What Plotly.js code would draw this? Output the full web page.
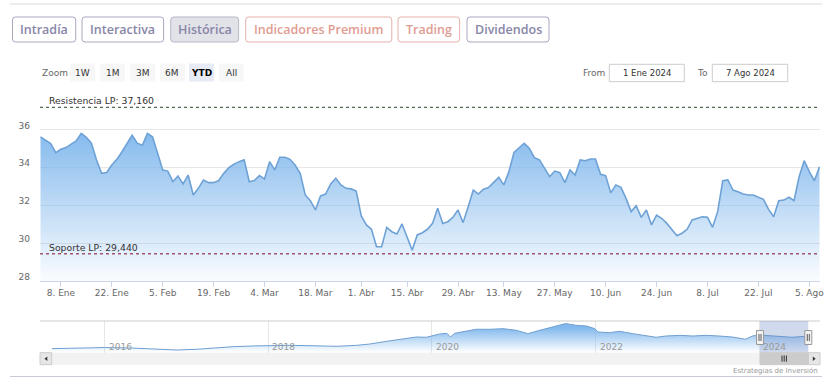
<!DOCTYPE html>
<html><head><meta charset="utf-8">
<script src="https://cdn.plot.ly/plotly-3.0.1.min.js"></script>
<style>html,body{margin:0;padding:0;background:#fff;} #chart{width:831px;height:386px;}</style>
</head><body><div id="chart"></div>
<script>
// ---------------- DATA ----------------
const startDate = '2024-01-02';
const endDate = '2024-08-07';
const marketHolidays = ['2024-01-01', '2024-03-29', '2024-04-01', '2024-05-01'];

const closes = [
  35.61, 35.45, 35.25, 34.77, 34.95, 35.04, 35.22, 35.39, 35.79, 35.58,
  35.27, 34.39, 33.68, 33.73, 34.12, 34.42, 34.82, 35.27, 35.69, 35.27,
  35.16, 35.79, 35.61, 34.74, 33.86, 33.80, 33.24, 33.54, 33.12, 33.59,
  32.54, 32.89, 33.33, 33.19, 33.19, 33.30, 33.68, 33.98, 34.17, 34.30,
  34.39, 33.24, 33.30, 33.56, 33.38, 34.30, 33.86, 34.53, 34.53, 34.42,
  34.12, 33.68, 32.54, 32.24, 31.75, 32.49, 32.59, 33.12, 33.42, 33.07,
  32.89, 32.86, 32.75, 31.43, 30.96, 30.73, 29.81, 29.81, 30.83, 30.60,
  30.48, 31.01, 30.34, 29.62, 30.43, 30.55, 30.73, 31.04, 31.84, 31.04,
  31.13, 31.36, 31.75, 31.08, 31.92, 32.80, 32.59, 32.84, 32.93, 33.19,
  33.47, 33.07, 33.77, 34.79, 35.04, 35.27, 35.00, 34.51, 34.39, 33.95,
  33.50, 33.80, 33.72, 33.19, 33.86, 33.59, 34.39, 34.35, 34.44, 34.44,
  33.63, 33.56, 32.65, 33.07, 32.94, 32.36, 31.66, 31.97, 31.36, 31.75,
  30.96, 31.47, 31.31, 31.04, 30.69, 30.39, 30.52, 30.73, 31.22, 31.31,
  31.39, 31.36, 30.83, 31.66, 33.29, 33.33, 32.80, 32.71, 32.59, 32.54,
  32.54, 32.42, 32.31, 31.78, 31.39, 32.24, 32.27, 32.42, 32.24, 33.50,
  34.35, 33.77, 33.29, 34.03
];

const tickDates = ['2024-01-08','2024-01-22','2024-02-05','2024-02-19','2024-03-04','2024-03-18',
  '2024-04-02','2024-04-15','2024-04-29','2024-05-13','2024-05-27','2024-06-10','2024-06-24',
  '2024-07-08','2024-07-22','2024-08-05'];
const tickLabels = ['8. Ene','22. Ene','5. Feb','19. Feb','4. Mar','18. Mar','1. Abr','15. Abr',
  '29. Abr','13. May','27. May','10. Jun','24. Jun','8. Jul','22. Jul','5. Ago'];
const yTickVals = [28, 30, 32, 34, 36, 38];
const yTickLabels = ['28', '30', '32', '34', '36', ''];

const resistencia = 37.16;
const soporte = 29.44;

const navDates = ['2015-05-11','2015-08-01','2015-10-14','2016-01-01','2016-04-23','2016-08-07',
  '2016-11-18','2017-02-16','2017-05-30','2017-07-29','2017-10-26','2018-01-01','2018-03-22',
  '2018-07-05','2018-11-02','2019-01-31','2019-03-30','2019-06-13','2019-08-26','2019-10-24',
  '2019-12-07','2020-01-03','2020-02-05','2020-03-08','2020-03-24','2020-04-12','2020-05-19',
  '2020-07-17','2020-09-16','2020-11-14','2021-01-12','2021-03-04','2021-04-26','2021-06-25',
  '2021-08-20','2021-10-05','2021-11-21','2021-12-28','2022-01-11','2022-03-04','2022-04-17',
  '2022-06-15','2022-07-31','2022-09-28','2022-11-10','2023-01-12','2023-03-11','2023-05-08',
  '2023-07-06','2023-09-02','2023-11-01','2023-12-01','2024-01-02','2024-02-28','2024-05-26',
  '2024-08-07'];
const navValues = [15.9, 16.4, 16.4, 17.5, 16.9, 15.9, 14.0, 15.0, 17.9, 18.8, 19.8, 20.2, 20.7,
  20.2, 19.3, 20.7, 22.6, 26.5, 29.4, 32.7, 32.3, 34.1, 37.0, 38.0, 32.7, 38.0, 39.9, 43.8, 43.8,
  44.7, 42.3, 37.5, 42.3, 47.1, 52.0, 49.5, 48.5, 44.7, 39.9, 38.9, 40.9, 37.5, 35.1, 32.3, 34.1,
  35.1, 34.1, 35.1, 34.1, 32.7, 29.4, 34.1, 35.6, 34.1, 32.3, 34.0];
const navTickDates = ['2016-01-01','2018-01-01','2020-01-01','2022-01-01','2024-01-01'];
const navTickLabels = ['2016','2018','2020','2022','2024'];

const tabLabels = ['Intradía','Interactiva','Histórica','Indicadores Premium','Trading','Dividendos'];
const zoomLabels = ['1W','1M','3M','6M','YTD','All'];
const fromLabel = 'From', toLabel = 'To';
const fromValue = '1 Ene 2024', toValue = '7 Ago 2024';
const creditText = 'Estrategias de Inversión';

// ---------------- CALENDAR (trading days) ----------------
function tradingDays(s, e, hol) {
  const out = [];
  const d = new Date(s + 'T00:00:00Z'), end = new Date(e + 'T00:00:00Z');
  while (d <= end) {
    const iso = d.toISOString().slice(0, 10);
    const wd = d.getUTCDay();
    if (wd !== 0 && wd !== 6 && hol.indexOf(iso) < 0) out.push(iso);
    d.setUTCDate(d.getUTCDate() + 1);
  }
  return out;
}
const dates = tradingDays(startDate, endDate, marketHolidays);

// ---------------- LAYOUT HELPERS ----------------
const W = 831, H = 386;
const px = x => x / W;
const py = y => 1 - y / H;
function rrect(x0, y0, x1, y1, r) {
  const P = (x, y) => px(x).toFixed(5) + ',' + py(y).toFixed(5);
  return 'M' + P(x0 + r, y0) + ' L' + P(x1 - r, y0) + ' Q' + P(x1, y0) + ' ' + P(x1, y0 + r) +
    ' L' + P(x1, y1 - r) + ' Q' + P(x1, y1) + ' ' + P(x1 - r, y1) +
    ' L' + P(x0 + r, y1) + ' Q' + P(x0, y1) + ' ' + P(x0, y1 - r) +
    ' L' + P(x0, y0 + r) + ' Q' + P(x0, y0) + ' ' + P(x0 + r, y0) + ' Z';
}
function rect(x0, y0, x1, y1, fill, line, lw) {
  return {type: 'rect', xref: 'paper', yref: 'paper', x0: px(x0), x1: px(x1), y0: py(y1), y1: py(y0),
    fillcolor: fill, line: {color: line || 'rgba(0,0,0,0)', width: lw === undefined ? (line ? 1 : 0) : lw}, layer: 'above'};
}
function hline(x0, x1, y, color, w) {
  return {type: 'line', xref: 'paper', yref: 'paper', x0: px(x0), x1: px(x1), y0: py(y), y1: py(y),
    line: {color: color, width: w || 1}, layer: 'above'};
}
function vline(x, y0, y1, color, w) {
  return {type: 'line', xref: 'paper', yref: 'paper', x0: px(x), x1: px(x), y0: py(y0), y1: py(y1),
    line: {color: color, width: w || 1}, layer: 'above'};
}
function txt(text, x, y, opts) {
  opts = opts || {};
  return {text: text, x: px(x), y: py(y), xref: 'paper', yref: 'paper', showarrow: false,
    xanchor: opts.xa || 'center', yanchor: 'middle',
    font: {family: opts.family || 'DejaVu Sans, Verdana, sans-serif', size: opts.size || 9,
      color: opts.color || '#666', weight: opts.weight || 400}};
}

const shapes = [];
const annotations = [];

// page lines
shapes.push(hline(10, 822, 4, '#d9d9e0', 1));
shapes.push(hline(10, 822, 376.5, '#c9cad6', 1));

// tabs
const tabBoxes = [[12.5, 75.7], [82, 163.6], [170.7, 238.6], [245.7, 391.8], [398, 459.6], [467, 549]];
const tabKind = ['p', 'p', 'sel', 's', 's', 'p'];
tabLabels.forEach((t, i) => {
  const [a, b] = tabBoxes[i];
  const k = tabKind[i];
  const border = k === 's' ? '#e5b1aa' : (k === 'sel' ? '#b8b7c9' : '#a9a7c2');
  const fill = k === 'sel' ? '#e2e2e9' : '#ffffff';
  const col = k === 's' ? '#df9c92' : '#8886a7';
  shapes.push({type: 'path', xref: 'paper', yref: 'paper', path: rrect(a, 17, b, 42, 3),
    fillcolor: fill, line: {color: border, width: 1}, layer: 'above'});
  annotations.push(txt(t, (a + b) / 2, 29.5, {family: '"Open Sans", Roboto, sans-serif', size: 12.5,
    color: col, weight: 600}));
});

// range selector
annotations.push(txt('Zoom', 40, 72.5, {xa: 'left', size: 9, color: '#666'}));
const zoomCenters = [82.5, 112.5, 142.8, 172.4, 201.5, 231.2];
zoomLabels.forEach((z, i) => {
  const c = zoomCenters[i];
  const sel = z === 'YTD';
  shapes.push(rect(c - 12.5, 63.5, c + 12.5, 81.5, sel ? '#e6ebf5' : '#f7f7f7'));
  annotations.push(txt(z, c, 72.5, {size: 9, color: sel ? '#000' : '#333', weight: sel ? 700 : 400}));
});
annotations.push(txt(fromLabel, 580.7, 72.5, {xa: 'left', size: 9, color: '#666'}));
annotations.push(txt(toLabel, 695, 72.5, {xa: 'left', size: 9, color: '#666'}));
shapes.push(rect(609.3, 64.3, 684.3, 81.7, '#ffffff', '#cccccc', 1));
shapes.push(rect(712.3, 64.3, 787.7, 81.7, '#ffffff', '#cccccc', 1));
annotations.push(txt(fromValue, 646.8, 73, {size: 8.5, color: '#333'}));
annotations.push(txt(toValue, 750, 73, {size: 8.5, color: '#333'}));

// support / resistance
const fmt = v => v.toFixed(3).replace('.', ',');
shapes.push({type: 'line', xref: 'paper', yref: 'y', x0: px(40), x1: px(820), y0: resistencia, y1: resistencia,
  line: {color: '#4f6a4f', width: 1.4, dash: 'dot'}, layer: 'above'});
shapes.push({type: 'line', xref: 'paper', yref: 'y', x0: px(40), x1: px(820), y0: soporte, y1: soporte,
  line: {color: '#a05672', width: 1.4, dash: 'dot'}, layer: 'above'});
annotations.push({text: 'Resistencia LP: ' + fmt(resistencia), xref: 'paper', yref: 'y', x: px(46.5), y: resistencia,
  yshift: 6.5, showarrow: false, xanchor: 'left', yanchor: 'middle',
  font: {family: 'DejaVu Sans, Verdana, sans-serif', size: 9.3, color: '#333'}});
annotations.push({text: 'Soporte LP: ' + fmt(soporte), xref: 'paper', yref: 'y', x: px(46.5), y: soporte,
  yshift: 6.5, showarrow: false, xanchor: 'left', yanchor: 'middle',
  font: {family: 'DejaVu Sans, Verdana, sans-serif', size: 9.3, color: '#333'}});

// navigator year labels (drawn inside the navigator, right of each year gridline)
navTickDates.forEach((d, i) => {
  annotations.push({text: navTickLabels[i], xref: 'x2', yref: 'paper', x: d, y: py(346.5),
    xshift: 2, showarrow: false, xanchor: 'left', yanchor: 'middle',
    font: {family: 'DejaVu Sans, Verdana, sans-serif', size: 9, color: '#999'}});
});

// navigator decorations
shapes.push(hline(40, 820, 321, '#cccccc', 1));
shapes.push(rect(760, 321, 808.3, 352.7, 'rgba(102,133,194,0.30)'));
// scrollbar
shapes.push(rect(40, 352.7, 820, 364.7, '#f2f2f2'));
shapes.push(rect(40, 352.7, 51.7, 364.7, '#e6e6e6', '#cccccc', 1));
shapes.push(rect(808.3, 352.7, 820, 364.7, '#e6e6e6', '#cccccc', 1));
shapes.push(rect(760, 352.7, 808.3, 364.7, '#cccccc', '#cccccc', 1));
function tri(points) {
  return {type: 'path', xref: 'paper', yref: 'paper', layer: 'above', fillcolor: '#333', line: {width: 0},
    path: 'M' + points.map(p => px(p[0]).toFixed(5) + ',' + py(p[1]).toFixed(5)).join(' L') + ' Z'};
}
shapes.push(tri([[47.3, 356.5], [47.3, 360.9], [44.5, 358.7]]));
shapes.push(tri([[812.8, 356.5], [812.8, 360.9], [815.6, 358.7]]));
[782, 784.2, 786.4].forEach(x => shapes.push(vline(x, 355.5, 361.7, '#333', 1)));
// handles
[760, 808.3].forEach(x => {
  shapes.push(rect(x - 3.5, 330.5, x + 3.5, 344.5, '#f2f2f2', '#999999', 1));
  shapes.push(vline(x - 1, 334, 341, '#333', 0.8));
  shapes.push(vline(x + 1, 334, 341, '#333', 0.8));
});

annotations.push(txt(creditText, 820, 371, {xa: 'right', size: 7, color: '#999'}));

// ---------------- TRACES ----------------
const mainTrace = {
  x: dates, y: closes, type: 'scatter', mode: 'lines', xaxis: 'x', yaxis: 'y',
  line: {color: '#6ea2d6', width: 1.6},
  fill: 'tozeroy',
  fillgradient: {type: 'vertical', start: 28, stop: 36,
    colorscale: [[0, 'rgba(124,181,236,0.04)'], [1, 'rgba(124,181,236,0.95)']]},
  hoverinfo: 'skip'
};
const navTrace = {
  x: navDates, y: navValues, type: 'scatter', mode: 'lines', xaxis: 'x2', yaxis: 'y2',
  line: {color: '#6f9fd0', width: 1},
  fill: 'tozeroy',
  fillgradient: {type: 'vertical', start: 12, stop: 46,
    colorscale: [[0, 'rgba(124,181,236,0.04)'], [1, 'rgba(124,181,236,0.95)']]},
  hoverinfo: 'skip'
};

const layout = {
  width: W, height: H, margin: {l: 0, r: 0, t: 0, b: 0},
  paper_bgcolor: '#ffffff', plot_bgcolor: 'rgba(0,0,0,0)', showlegend: false,
  font: {family: 'DejaVu Sans, Verdana, sans-serif', size: 9, color: '#666'},
  xaxis: {
    type: 'category', domain: [px(40), px(820)], anchor: 'y', range: [-0.1, dates.length - 0.9],
    tickmode: 'array', tickvals: tickDates, ticktext: tickLabels,
    ticks: 'outside', ticklen: 5, tickcolor: '#ccd6eb', tickwidth: 1,
    showline: true, linecolor: '#ccd6eb', linewidth: 1, showgrid: false, zeroline: false,
    ticklabelstandoff: -2,
    tickfont: {family: 'DejaVu Sans, Verdana, sans-serif', size: 9, color: '#666'}, fixedrange: true
  },
  yaxis: {
    domain: [py(281), py(91.5)], anchor: 'x', range: [28, 38],
    tickmode: 'array', tickvals: yTickVals, ticktext: yTickLabels,
    showgrid: true, gridcolor: '#e6e6e6', gridwidth: 1, zeroline: false, showline: false, ticks: '',
    ticklabelshift: -4, ticklabelstandoff: 9,
    tickfont: {family: 'DejaVu Sans, Verdana, sans-serif', size: 9, color: '#666'}, fixedrange: true
  },
  xaxis2: {
    type: 'date', domain: [px(51.7), px(808.3)], anchor: 'y2', range: ['2015-05-10', '2024-08-07'],
    tickmode: 'array', tickvals: navTickDates, showticklabels: false,
    ticks: '', showline: false, zeroline: false,
    showgrid: true, gridcolor: '#e6e6e6', gridwidth: 1, fixedrange: true
  },
  yaxis2: {
    domain: [py(352.7), py(321)], anchor: 'x2', range: [10.1, 55.7],
    showgrid: false, zeroline: false, showline: false, showticklabels: false, ticks: '', fixedrange: true
  },
  shapes: shapes,
  annotations: annotations
};

Plotly.newPlot('chart', [mainTrace, navTrace], layout, {displayModeBar: false, staticPlot: true});
</script>
</body></html>
